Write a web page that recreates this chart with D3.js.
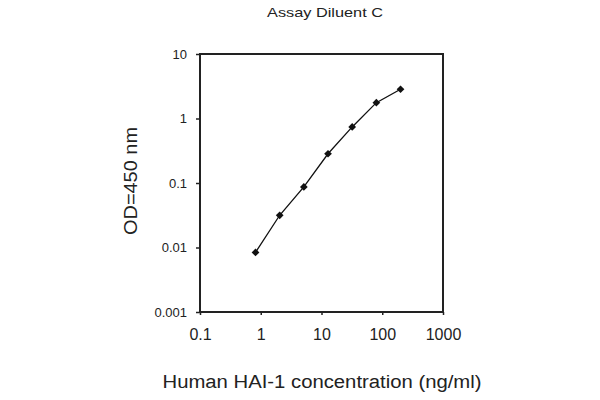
<!DOCTYPE html>
<html><head><meta charset="utf-8">
<script src="https://cdn.jsdelivr.net/npm/d3@7"></script>
<style>body{margin:0;background:#fff}svg{display:block}text{font-family:"Liberation Sans",Arial,sans-serif;fill:#222}</style>
</head><body><svg id="c" width="600" height="400"></svg>
<script>
const concentrations = [0.82, 2.05, 5.12, 12.8, 32, 80, 200];
const odValues = [0.0084, 0.0316, 0.087, 0.284, 0.74, 1.76, 2.84];
const xTicks = [0.1, 1, 10, 100, 1000];
const yTicks = [0.001, 0.01, 0.1, 1, 10];
const title = "Assay Diluent C";
const xLabel = "Human HAI-1 concentration (ng/ml)";
const yLabel = "OD=450 nm";

const svg = d3.select("#c");
const L = 200, R = 443, T = 54, B = 312;
const x = d3.scaleLog().domain([0.1, 1000]).range([L, R]);
const y = d3.scaleLog().domain([0.001, 10]).range([B, T]);

svg.append("rect").attr("x", L).attr("y", T).attr("width", R - L).attr("height", B - T)
  .attr("fill", "none").attr("stroke", "#222").attr("stroke-width", 2);

const fmt = d => String(d);
const xa = svg.append("g").attr("transform", `translate(0,${B})`)
  .call(d3.axisBottom(x).tickValues(xTicks).tickFormat(fmt).tickSize(3).tickPadding(14));
const ya = svg.append("g").attr("transform", `translate(${L},0)`)
  .call(d3.axisLeft(y).tickValues(yTicks).tickFormat(fmt).tickSize(4).tickPadding(9));
[xa, ya].forEach(g => {
  g.select(".domain").remove();
  g.selectAll("line").attr("stroke", "#222").attr("stroke-width", 1.5);
  g.selectAll("text").style("font-family", "'Liberation Sans',Arial,sans-serif").attr("fill", "#222");
});
xa.selectAll("text").style("font-size", "16px");
ya.selectAll("text").style("font-size", "13px");

const data = concentrations.map((c, i) => [c, odValues[i]]);
svg.append("path").datum(data)
  .attr("d", d3.line().x(d => x(d[0])).y(d => y(d[1])))
  .attr("fill", "none").attr("stroke", "#111").attr("stroke-width", 1.3);
svg.selectAll(".pt").data(data).enter().append("path")
  .attr("transform", d => `translate(${x(d[0])},${y(d[1])})`)
  .attr("d", d3.symbol(d3.symbolDiamond2, 38)).attr("fill", "#111");

svg.append("text").attr("x", 325).attr("y", 17).attr("text-anchor", "middle")
  .attr("textLength", 116).attr("lengthAdjust", "spacingAndGlyphs")
  .style("font-size", "13px").text(title);
svg.append("text").attr("transform", "translate(137,181) rotate(-90)").attr("text-anchor", "middle")
  .attr("textLength", 108).attr("lengthAdjust", "spacingAndGlyphs")
  .style("font-size", "18px").text(yLabel);
svg.append("text").attr("x", 322).attr("y", 388).attr("text-anchor", "middle")
  .attr("textLength", 319).attr("lengthAdjust", "spacingAndGlyphs")
  .style("font-size", "18px").text(xLabel);
</script></body></html>
